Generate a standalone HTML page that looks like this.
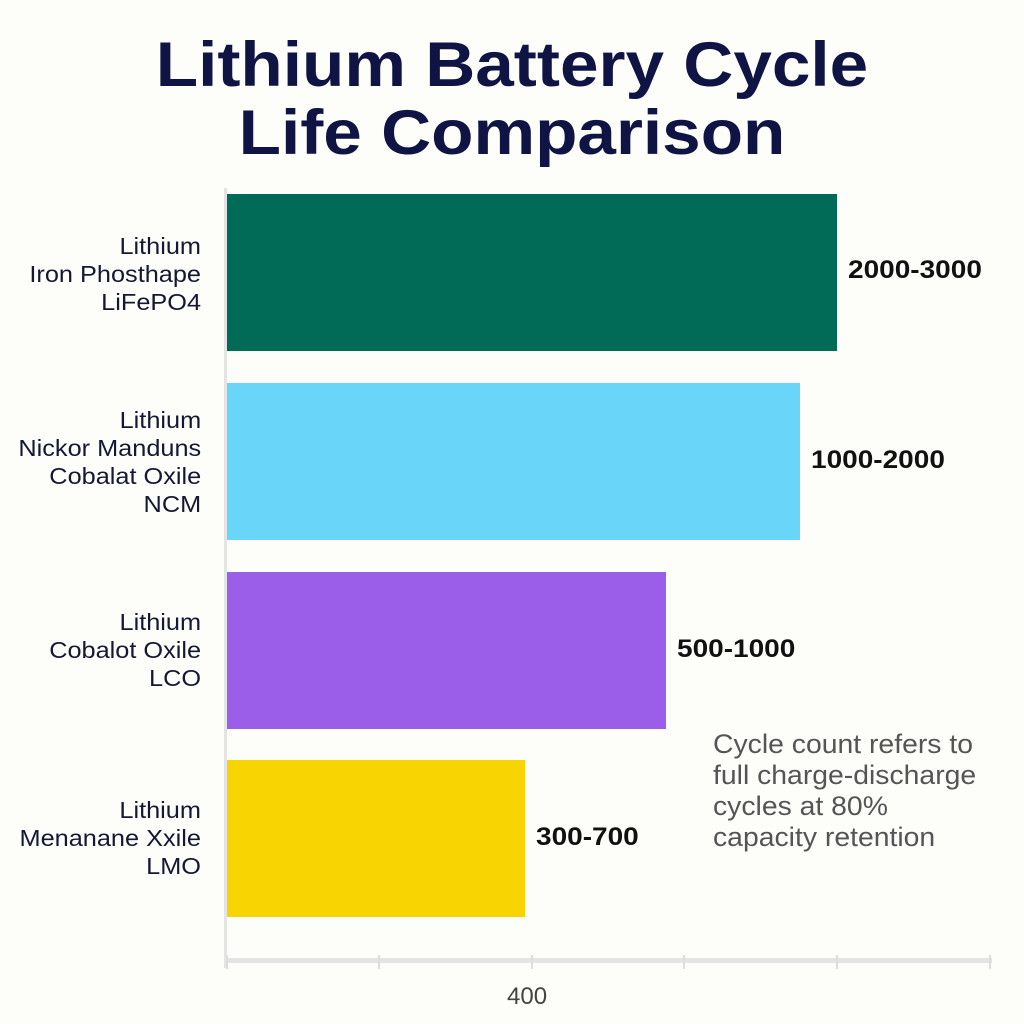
<!DOCTYPE html>
<html><head><style>
body{margin:0;width:1024px;height:1024px;background:#fdfdfa;position:relative;font-family:"Liberation Sans",sans-serif;overflow:hidden}
.t{position:absolute;left:0;width:1024px;text-align:center;font-weight:bold;color:#0f1444;font-size:63px;line-height:68px;top:31px;transform:scaleX(1.1);transform-origin:512px 0}
.bar{position:absolute;left:227px;height:157px}
.lab{position:absolute;right:823px;text-align:right;color:#141833;font-size:23px;line-height:28px;white-space:nowrap;transform:scaleX(1.1);transform-origin:right}
.val{position:absolute;font-weight:bold;font-size:25px;color:#111;transform:scaleX(1.12);transform-origin:left}
.tick{position:absolute;top:955px;width:2px;height:14px;background:#ddd}
</style></head><body>
<div class="t">Lithium Battery Cycle<br>Life Comparison</div>
<div style="position:absolute;left:224px;top:188px;width:3px;height:780px;background:#e4e4e4"></div>
<div style="position:absolute;left:227px;top:958px;width:765px;height:5px;background:#e4e4e4"></div>
<div class="tick" style="left:226px"></div><div class="tick" style="left:378px"></div><div class="tick" style="left:531px"></div><div class="tick" style="left:683px"></div><div class="tick" style="left:836px"></div><div class="tick" style="left:989px"></div>
<div class="bar" style="top:194px;width:610px;background:#016b58"></div>
<div class="bar" style="top:383px;width:573px;background:#69d5f8"></div>
<div class="bar" style="top:572px;width:439px;background:#9a5ee9"></div>
<div class="bar" style="top:760px;width:298px;background:#f8d402"></div>
<div class="lab" style="top:232px">Lithium<br>Iron Phosthape<br>LiFePO4</div>
<div class="lab" style="top:406px">Lithium<br>Nickor Manduns<br>Cobalat Oxile<br>NCM</div>
<div class="lab" style="top:608px">Lithium<br>Cobalot Oxile<br>LCO</div>
<div class="lab" style="top:796px">Lithium<br>Menanane Xxile<br>LMO</div>
<div class="val" style="left:848px;top:256px">2000-3000</div>
<div class="val" style="left:811px;top:446px">1000-2000</div>
<div class="val" style="left:677px;top:635px">500-1000</div>
<div class="val" style="left:536px;top:823px">300-700</div>
<div style="position:absolute;left:713px;top:729px;font-size:27px;line-height:31px;color:#555;white-space:nowrap;transform:scaleX(1.05);transform-origin:left">Cycle count refers to<br>full charge-discharge<br>cycles at 80%<br>capacity retention</div>
<div style="position:absolute;left:507px;top:983px;font-size:24px;color:#444">400</div>
</body></html>
